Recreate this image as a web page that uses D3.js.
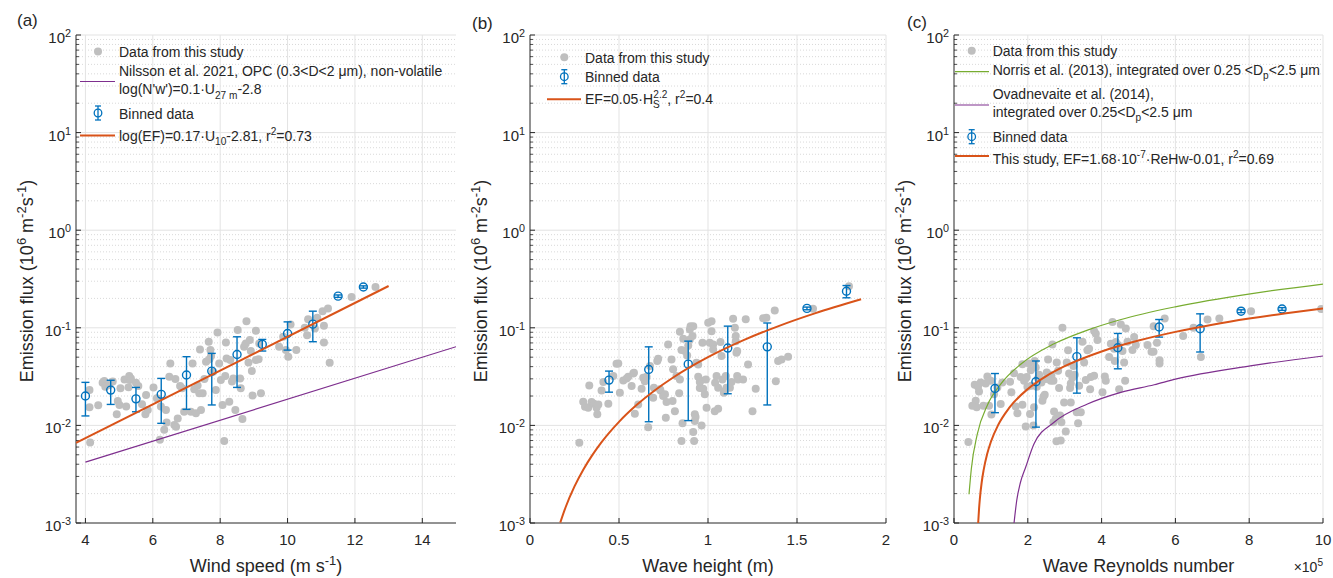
<!DOCTYPE html>
<html><head><meta charset="utf-8">
<script src="https://cdn.jsdelivr.net/npm/d3@7"></script>
<style>
body{margin:0;background:#fff}
svg{display:block}
text{font-family:"Liberation Sans",Arial,Helvetica,sans-serif;fill:#262626}
</style>
</head><body>
<svg id="chart" width="1333" height="578"></svg>
<script>
// ---------------- DATA ----------------
// Panel (a): wind speed
const windSpeed = [4.12,4.12,4.14,4.38,4.51,4.56,4.59,4.71,4.81,4.93,
4.96,5.01,5.04,5.16,5.21,5.28,5.30,5.32,5.35,5.50,
5.57,5.68,5.78,5.80,5.85,6.02,6.12,6.21,6.24,6.34,
6.39,6.41,6.49,6.52,6.64,6.67,6.69,6.74,6.81,6.87,
6.93,7.13,7.18,7.23,7.28,7.33,7.38,7.40,7.43,7.48,
7.53,7.58,7.66,7.68,7.71,7.73,7.79,7.87,7.92,7.97,
8.02,8.07,8.12,8.15,8.17,8.19,8.27,8.30,8.35,8.39,
8.45,8.52,8.59,8.61,8.66,8.71,8.76,8.78,8.84,8.88,
8.91,8.94,8.96,9.06,9.06,9.14,9.16,9.21,
9.75,9.87,9.95,10.02,10.09,10.26,10.51,10.58,10.61,10.81,10.88,11.04,11.08,11.08,11.20,11.25,11.90,12.61];
const efWind = [0.0231,0.0153,0.00668,0.0161,0.0274,0.0285,0.0249,0.0259,0.0281,0.0130,
0.0178,0.0162,0.0240,0.0296,0.0156,0.0246,0.0321,0.0292,0.0303,0.0274,
0.0253,0.0165,0.0130,0.0205,0.0144,0.0244,0.0190,0.00711,0.0156,0.0090,
0.0144,0.0107,0.0316,0.0432,0.0101,0.0299,0.0097,0.0118,0.0253,0.0240,
0.0138,0.0138,0.0432,0.0234,0.0133,0.0256,0.0213,0.0600,0.0144,0.0213,
0.0299,0.0449,0.0720,0.0475,0.0591,0.0513,0.0355,0.0231,0.0896,0.0432,
0.0292,0.0162,0.00694,0.0321,0.0708,0.0486,0.0175,0.0467,0.0281,0.0303,
0.0144,0.0947,0.0303,0.0240,0.0116,0.0639,0.0692,0.117,0.0442,0.0748,
0.0578,0.0361,0.0202,0.0932,0.0467,0.0475,0.0692,0.0213,
0.0639,0.0809,0.0591,0.0505,0.108,0.0591,0.100,0.0841,0.122,0.0984,0.127,0.148,0.105,0.0708,0.158,0.0439,0.207,0.262];
const binWind   = [4,4.75,5.5,6.25,7,7.75,8.5,9.25,10,10.75,11.5,12.25];
const binWindEF = [0.020,0.023,0.0187,0.0208,0.0328,0.036,0.0533,0.0676,0.0875,0.109,0.211,0.262];
const binWindLo = [0.0125,0.0164,0.0138,0.0105,0.0146,0.0162,0.0245,0.0578,0.0591,0.072,0.205,0.255];
const binWindHi = [0.0276,0.029,0.0245,0.0303,0.0506,0.0547,0.0809,0.076,0.115,0.148,0.217,0.269];
const fitWindX  = [3.72,13.0];
const fitWindEF = [0.00664,0.268];
const nilssonX  = [4,15];
const nilssonEF = [0.0042,0.064];

// Panel (b): wave height
const waveHeight = [0.277,0.299,0.309,0.327,0.333,0.346,0.359,0.374,0.378,0.384,
0.402,0.412,0.440,0.468,0.486,0.496,0.505,0.524,0.543,0.552,
0.571,0.580,0.584,0.589,0.608,0.627,0.636,0.645,0.655,0.664,
0.674,0.692,0.696,0.715,0.720,0.730,0.733,0.748,0.758,0.767,
0.763,0.776,0.795,0.801,0.804,0.814,0.823,0.838,0.842,0.842,
0.857,0.851,0.861,0.851,0.870,0.883,0.889,0.898,0.898,0.902,
0.913,0.917,0.926,0.930,0.926,0.917,0.922,0.935,0.945,0.945,
0.954,0.954,0.964,0.958,0.969,0.973,0.982,0.988,0.992,1.001,
1.010,1.020,1.020,1.029,1.029,1.038,1.040,1.048,1.057,1.057,
1.070,1.076,1.081,1.089,1.094,1.100,1.104,1.123,1.132,1.141,
1.151,1.156,1.156,1.160,1.164,1.164,1.169,1.197,1.212,1.225,
1.250,1.268,1.310,1.328,1.375,1.381,1.394,1.413,1.450,1.590,1.792];
const efWave = [0.00666,0.0175,0.0155,0.0152,0.0257,0.0174,0.0167,0.0152,0.0130,0.0164,
0.0228,0.0278,0.0167,0.0320,0.0428,0.0430,0.0216,0.0289,0.0303,0.0315,
0.0253,0.0341,0.0346,0.0132,0.0164,0.0237,0.0308,0.0284,0.0315,0.0096,
0.0405,0.0192,0.0243,0.0456,0.0482,0.0234,0.0228,0.0200,0.0208,0.0174,
0.0120,0.0675,0.0474,0.0178,0.0375,0.0140,0.0320,0.0213,0.0296,0.0910,
0.0105,0.00692,0.0772,0.0591,0.0577,0.0521,0.0659,0.0961,0.0759,0.104,
0.0822,0.104,0.0130,0.0122,0.0111,0.00854,0.00692,0.0438,0.0421,0.0315,
0.0241,0.0278,0.0100,0.0289,0.0702,0.0237,0.0208,0.0296,0.0152,0.1125,
0.0702,0.117,0.0924,0.0675,0.060,0.0140,0.0273,0.0320,0.0148,0.0243,
0.0714,0.0513,0.0296,0.0216,0.0225,0.0320,0.0243,0.0243,0.0278,0.124,
0.100,0.0822,0.0730,0.0555,0.0577,0.0320,0.0296,0.0296,0.122,0.0421,
0.0140,0.0237,0.125,0.127,0.150,0.0284,0.0456,0.0474,0.0505,0.157,0.267];
const binWave   = [0.444,0.667,0.889,1.111,1.333,1.556,1.778];
const binWaveEF = [0.0291,0.0374,0.0424,0.062,0.0638,0.158,0.237];
const binWaveLo = [0.0219,0.0109,0.0112,0.0211,0.0162,0.153,0.203];
const binWaveHi = [0.036,0.0638,0.073,0.104,0.112,0.163,0.271];
const fitWaveX  = [0.17,0.2,0.25,0.3,0.35,0.4,0.5,0.6,0.7,0.8,1.0,1.2,1.4,1.6,1.86];
const fitWaveEF = [0.00101,0.00145,0.00237,0.00354,0.00496,0.00666,0.01088,0.01625,0.0228,0.0306,0.05,0.0747,0.1048,0.1406,0.196];

// Panel (c): wave Reynolds number (x 10^5)
const reynolds = [0.389,0.497,0.561,0.588,0.615,0.651,0.678,0.723,0.796,0.859,
0.904,0.949,0.995,1.013,1.085,1.175,1.266,1.311,1.519,1.555,
1.627,1.673,1.718,1.808,1.854,1.854,1.899,1.944,1.944,1.971,
1.989,2.034,2.061,2.080,2.098,2.152,2.170,2.188,2.215,2.242,
2.278,2.306,2.369,2.396,2.423,2.459,2.486,2.514,2.550,2.577,
2.622,2.640,2.667,2.694,2.694,2.712,2.758,2.776,2.785,2.821,
2.848,2.875,2.893,2.911,2.939,2.984,3.029,3.056,3.092,3.119,
3.146,3.165,3.165,3.210,3.237,3.273,3.327,3.363,3.391,3.436,
3.481,3.526,3.571,3.617,3.662,3.689,3.707,3.797,3.797,3.843,
3.888,4.024,4.087,4.114,4.204,4.250,4.295,4.340,4.358,4.385,
4.448,4.476,4.521,4.566,4.611,4.638,4.656,4.702,4.837,4.882,
4.928,5.244,5.353,5.407,5.41,5.50,5.57,5.57,5.71,6.21,
6.49,6.69,6.87,7.19,8.05,9.95];
const efRe = [0.00674,0.0159,0.0261,0.0179,0.0153,0.0249,0.0223,0.0275,0.0159,0.0269,
0.0317,0.0159,0.0286,0.0129,0.0209,0.0245,0.0166,0.0275,0.0280,0.0218,
0.0343,0.0156,0.0133,0.0314,0.0423,0.0163,0.0286,0.0302,0.00973,0.0314,
0.0249,0.0430,0.0131,0.0368,0.0255,0.00996,0.0153,0.0458,0.0391,0.0249,
0.0305,0.0330,0.0275,0.0179,0.0197,0.0206,0.0298,0.0348,0.0472,0.0330,
0.0286,0.0322,0.0676,0.0108,0.0286,0.0139,0.0117,0.0069,0.0440,0.0362,
0.0241,0.0126,0.0070,0.0108,0.100,0.0172,0.00865,0.0440,0.0588,0.0340,
0.0241,0.0269,0.0172,0.0309,0.0407,0.0330,0.0136,0.0105,0.0255,0.0136,
0.0720,0.0440,0.0291,0.0588,0.0611,0.0235,0.0314,0.0925,0.0322,0.0869,
0.0749,0.0218,0.0317,0.0286,0.0503,0.0687,0.115,0.0611,0.0458,0.0715,
0.0666,0.0235,0.108,0.0579,0.0440,0.0286,0.0984,0.0720,0.0592,0.0804,
0.0666,0.0666,0.057,0.057,0.104,0.0704,0.0465,0.0430,0.1245,0.0823,
0.100,0.0503,0.1216,0.1245,0.148,0.156];
const binRe   = [1.11,2.22,3.33,4.44,5.56,6.67,7.78,8.89];
const binReEF = [0.0239,0.028,0.0507,0.0625,0.102,0.0977,0.148,0.156];
const binReLo = [0.0135,0.0096,0.0214,0.038,0.0803,0.0565,0.143,0.151];
const binReHi = [0.034,0.0457,0.079,0.0875,0.1216,0.139,0.153,0.161];
const norrisRe = [0.407,0.47,0.633,0.904,1.266,1.808,2.712,3.617,4.503,5.995,8.029,10.0];
const norrisEF = [0.00197,0.0036,0.0082,0.0161,0.0265,0.0423,0.0685,0.0947,0.121,0.164,0.223,0.28];
const ovadRe = [1.627,1.70,1.80,1.944,2.17,2.712,3.617,4.52,5.425,6.0,8.03,10.0];
const ovadEF = [0.001,0.0017,0.0026,0.00375,0.0065,0.01076,0.01655,0.0218,0.0261,0.0298,0.0407,0.0514];
const fitReX  = [0.655,0.68,0.7,0.75,0.8,0.9,1.0,1.2,1.5,2,2.5,3,4,5,6,7,8,9,10];
const fitReEF = [0.0010,0.00142,0.00176,0.0026,0.00344,0.00512,0.0068,0.01016,0.0152,0.0236,0.032,0.0404,0.0572,0.074,0.0908,0.1076,0.1244,0.1412,0.158];

// Axes ticks
const yExponents = [-3,-2,-1,0,1,2];
const xTicksA = [4,6,8,10,12,14];
const xTicksB = [0,0.5,1,1.5,2];
const xTicksC = [0,2,4,6,8,10];

// ---------------- DRAWING ----------------
const svg = d3.select("#chart");
const INK = "#262626";
const BLUE = "#0072BD", ORANGE = "#D95319", PURPLE = "#7E2F8E", GREEN = "#77AC30", GRAY = "#bfbfbf";

function rich(g, x, y, parts, size, opts = {}) {
  const t = g.append("text").attr("x", x).attr("y", y).attr("font-size", size);
  if (opts.anchor) t.attr("text-anchor", opts.anchor);
  if (opts.transform) t.attr("transform", opts.transform);
  let shift = 0;
  parts.forEach(p => {
    const s = typeof p === "string" ? {t: p} : p;
    const target = s.sup ? -0.4 * size : s.sub ? 0.3 * size : 0;
    const ts = t.append("tspan").text(s.t).attr("dy", target - shift);
    shift = target;
    if (s.sup || s.sub) ts.attr("font-size", size * 0.72);
    if (s.dx) ts.attr("dx", s.dx);
  });
  return t;
}

let clipId = 0;
function panel(cfg) {
  const x = d3.scaleLinear().domain(cfg.xdom).range([cfg.left, cfg.right]);
  const y = d3.scaleLog().domain([1e-3, 1e2]).range([cfg.bottom, cfg.top]);
  const g = svg.append("g");
  const minor = [];
  for (let e = -3; e < 2; e++) for (let m = 2; m <= 9; m++) minor.push(m * Math.pow(10, e));
  g.selectAll(null).data(minor).join("line")
    .attr("x1", cfg.left).attr("x2", cfg.right)
    .attr("y1", d => y(d)).attr("y2", d => y(d))
    .attr("stroke", "#cfcfcf").attr("stroke-width", 0.8).attr("stroke-dasharray", "1,2");
  g.selectAll(null).data(yExponents.slice(1)).join("line")
    .attr("x1", cfg.left).attr("x2", cfg.right)
    .attr("y1", d => y(Math.pow(10, d))).attr("y2", d => y(Math.pow(10, d)))
    .attr("stroke", "#e3e3e3").attr("stroke-width", 1);
  g.selectAll(null).data(cfg.xticks.filter(d => x(d) > cfg.left + 1)).join("line")
    .attr("x1", d => x(d)).attr("x2", d => x(d))
    .attr("y1", cfg.top).attr("y2", cfg.bottom)
    .attr("stroke", "#e3e3e3").attr("stroke-width", 1);
  g.append("line").attr("x1", cfg.left).attr("x2", cfg.left).attr("y1", cfg.top).attr("y2", cfg.bottom)
    .attr("stroke", INK).attr("stroke-width", 1);
  g.append("line").attr("x1", cfg.left).attr("x2", cfg.right).attr("y1", cfg.bottom).attr("y2", cfg.bottom)
    .attr("stroke", INK).attr("stroke-width", 1);
  g.selectAll(null).data(minor).join("line")
    .attr("x1", cfg.left).attr("x2", cfg.left + 3)
    .attr("y1", d => y(d)).attr("y2", d => y(d)).attr("stroke", INK).attr("stroke-width", 0.8);
  g.selectAll(null).data(yExponents).join("line")
    .attr("x1", cfg.left).attr("x2", cfg.left + 5)
    .attr("y1", d => y(Math.pow(10, d))).attr("y2", d => y(Math.pow(10, d))).attr("stroke", INK);
  yExponents.forEach(e => {
    rich(g, cfg.left - 5, y(Math.pow(10, e)) + 8, ["10", {t: String(e), sup: true}], 15, {anchor: "end"});
  });
  g.selectAll(null).data(cfg.xticks).join("line")
    .attr("x1", d => x(d)).attr("x2", d => x(d))
    .attr("y1", cfg.bottom).attr("y2", cfg.bottom - 5).attr("stroke", INK);
  g.selectAll(null).data(cfg.xticks).join("text")
    .attr("x", d => x(d)).attr("y", cfg.bottom + 22).attr("text-anchor", "middle")
    .attr("font-size", 15).text(d => String(d));
  const ly = (cfg.top + cfg.bottom) / 2 + 2, lx = cfg.left - 43;
  rich(g, lx, ly,
    ["Emission flux (10", {t: "6", sup: true}, " m", {t: "-2", sup: true}, "s", {t: "-1", sup: true}, ")"], 18,
    {anchor: "middle", transform: `rotate(-90 ${lx} ${ly})`});
  rich(g, (cfg.left + cfg.right) / 2, 572, cfg.xlabel, 18, {anchor: "middle"});
  g.append("text").attr("x", cfg.tagX).attr("y", cfg.tagY).attr("font-size", 17).text(cfg.tag);
  const id = "clip" + (clipId++);
  svg.append("clipPath").attr("id", id).append("rect")
    .attr("x", cfg.left).attr("y", cfg.top).attr("width", cfg.right - cfg.left).attr("height", cfg.bottom - cfg.top);
  const plot = svg.append("g").attr("clip-path", `url(#${id})`);
  return {x, y, g, plot};
}

function scatter(p, xs, ys) {
  p.plot.append("g").selectAll("circle").data(d3.zip(xs, ys)).join("circle")
    .attr("cx", d => p.x(d[0])).attr("cy", d => p.y(d[1])).attr("r", 4)
    .attr("fill", GRAY);
}
function curve(p, xs, ys, color, w) {
  const line = d3.line().x(d => p.x(d[0])).y(d => p.y(d[1])).curve(d3.curveMonotoneX);
  p.plot.append("path").attr("d", line(d3.zip(xs, ys)))
    .attr("fill", "none").attr("stroke", color).attr("stroke-width", w);
}
function errbars(p, xs, ys, lo, hi) {
  const gg = p.plot.append("g").attr("stroke", BLUE).attr("fill", "none").attr("stroke-width", 1.4);
  xs.forEach((xv, i) => {
    const cx = p.x(xv);
    gg.append("line").attr("x1", cx).attr("x2", cx).attr("y1", p.y(lo[i])).attr("y2", p.y(hi[i]));
    [lo[i], hi[i]].forEach(v => gg.append("line").attr("x1", cx - 4).attr("x2", cx + 4).attr("y1", p.y(v)).attr("y2", p.y(v)));
    gg.append("circle").attr("cx", cx).attr("cy", p.y(ys[i])).attr("r", 4);
  });
}

function legDot(g, x, y) { g.append("circle").attr("cx", x).attr("cy", y).attr("r", 4).attr("fill", GRAY); }
function legLine(g, x1, x2, y, color, w) {
  g.append("line").attr("x1", x1).attr("x2", x2).attr("y1", y).attr("y2", y).attr("stroke", color).attr("stroke-width", w);
}
function legErr(g, x, y) {
  const gg = g.append("g").attr("stroke", BLUE).attr("fill", "none").attr("stroke-width", 1.3);
  gg.append("line").attr("x1", x).attr("x2", x).attr("y1", y - 7).attr("y2", y + 7);
  gg.append("line").attr("x1", x - 3).attr("x2", x + 3).attr("y1", y - 7).attr("y2", y - 7);
  gg.append("line").attr("x1", x - 3).attr("x2", x + 3).attr("y1", y + 7).attr("y2", y + 7);
  gg.append("circle").attr("cx", x).attr("cy", y).attr("r", 3.8);
}

// ----- Panel (a)
const pa = panel({left: 76, right: 456, top: 35, bottom: 523, xdom: [3.72, 15], xticks: xTicksA,
  xlabel: ["Wind speed (m s", {t: "-1", sup: true}, ")"], tag: "(a)", tagX: 17, tagY: 26});
scatter(pa, windSpeed, efWind);
curve(pa, nilssonX, nilssonEF, PURPLE, 1.2);
errbars(pa, binWind, binWindEF, binWindLo, binWindHi);
curve(pa, fitWindX, fitWindEF, ORANGE, 2);
{
  const g = pa.g, lx = 119;
  legDot(g, 98, 51.5);
  rich(g, lx, 56.7, ["Data from this study"], 14);
  legLine(g, 80, 115, 81.5, PURPLE, 1.2);
  rich(g, lx, 76, ["Nilsson et al. 2021, OPC (0.3<D<2 μm), non-volatile"], 14);
  rich(g, lx, 94.3, ["log(N'w')=0.1·U", {t: "27 m", sub: true}, "-2.8"], 14);
  legErr(g, 98, 113);
  rich(g, lx, 118.7, ["Binned data"], 14);
  legLine(g, 80, 115, 135.5, ORANGE, 2);
  rich(g, lx, 140.7, ["log(EF)=0.17·U", {t: "10", sub: true}, "-2.81, r", {t: "2", sup: true}, "=0.73"], 14);
}

// ----- Panel (b)
const pb = panel({left: 530, right: 886, top: 35, bottom: 523, xdom: [0, 2], xticks: xTicksB,
  xlabel: ["Wave height (m)"], tag: "(b)", tagX: 472, tagY: 29});
scatter(pb, waveHeight, efWave);
errbars(pb, binWave, binWaveEF, binWaveLo, binWaveHi);
curve(pb, fitWaveX, fitWaveEF, ORANGE, 2);
{
  const g = pb.g, lx = 585;
  legDot(g, 564.3, 57.3);
  rich(g, lx, 62.7, ["Data from this study"], 14);
  legErr(g, 564.3, 76.7);
  rich(g, lx, 82, ["Binned data"], 14);
  legLine(g, 547, 581, 99.3, ORANGE, 2);
  rich(g, lx, 104, ["EF=0.05·H", {t: "S", sub: true}, {t: "2.2", sup: true, dx: -6.5}, ", r", {t: "2", sup: true}, "=0.4"], 14);
}

// ----- Panel (c)
const pc = panel({left: 954, right: 1323, top: 35, bottom: 523, xdom: [0, 10], xticks: xTicksC,
  xlabel: ["Wave Reynolds number"], tag: "(c)", tagX: 907, tagY: 28});
scatter(pc, reynolds, efRe);
curve(pc, norrisRe, norrisEF, GREEN, 1.2);
curve(pc, ovadRe, ovadEF, PURPLE, 1.2);
errbars(pc, binRe, binReEF, binReLo, binReHi);
curve(pc, fitReX, fitReEF, ORANGE, 2);
rich(pc.g, 1323, 572, ["×10", {t: "5", sup: true}], 14, {anchor: "end"});
{
  const g = pc.g, lx = 992.7;
  legDot(g, 971.7, 50.7);
  rich(g, lx, 55.7, ["Data from this study"], 14);
  legLine(g, 955, 989, 71.7, GREEN, 1.2);
  rich(g, lx, 75, ["Norris et al. (2013), integrated over 0.25 <D", {t: "p", sub: true}, "<2.5 μm"], 14);
  legLine(g, 955, 989, 105, PURPLE, 1.2);
  rich(g, lx, 98.7, ["Ovadnevaite et al. (2014),"], 14);
  rich(g, lx, 116.7, ["integrated over 0.25<D", {t: "p", sub: true}, "<2.5 μm"], 14);
  legErr(g, 971.7, 136.7);
  rich(g, lx, 141.7, ["Binned data"], 14);
  legLine(g, 955, 989, 156, ORANGE, 2);
  rich(g, lx, 164, ["This study, EF=1.68·10", {t: "-7", sup: true}, "·ReHw-0.01, r", {t: "2", sup: true}, "=0.69"], 14);
}
</script>
</body></html>
